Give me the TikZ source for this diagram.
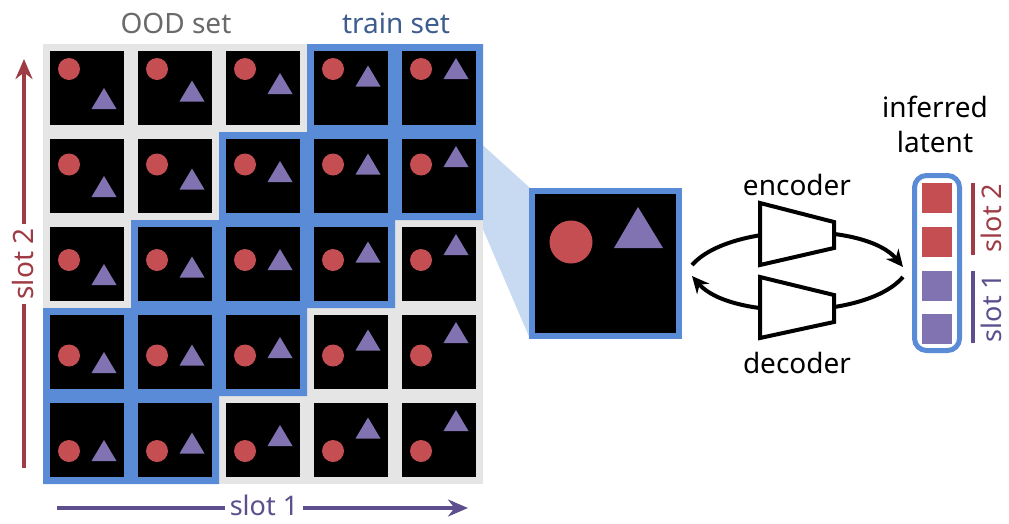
\documentclass[tikz,border=0pt]{standalone}
\usepackage{fontspec}
\setmainfont{Noto Sans}
\usetikzlibrary{arrows.meta}
\definecolor{cred}{HTML}{C44E52}
\definecolor{cpurple}{HTML}{8172B2}
\definecolor{cblue}{HTML}{5A8BD6}
\definecolor{lblue}{HTML}{C8DAF1}
\definecolor{cgray}{HTML}{E5E5E5}
\definecolor{dred}{HTML}{9E3B44}
\definecolor{dpurple}{HTML}{5D4F8D}
\definecolor{tblue}{HTML}{3D5D8F}
\definecolor{tgray}{HTML}{6A6A6A}
\begin{document}
\begin{tikzpicture}[x=1pt,y=-1pt,
  lbl/.style={font=\fontsize{28}{34}\selectfont, inner sep=1pt, text depth=0pt, anchor=base},
  edgelbl/.style={font=\fontsize{27}{32}\selectfont, text depth=0pt, anchor=base},
  cell/.style={fill=black, minimum size=74pt, inner sep=0pt, outer sep=0pt, draw=none},
  conn/.style={line width=4pt, black},
  coder/.style={draw=black, fill=white, line width=4pt, line join=miter},
  axis/.style={line width=4.5pt, -{Stealth[length=20pt,width=17pt]}}]
\useasboundingbox (0,0) rectangle (1009,523);
% projection cone
\fill[lblue] (476,139) -- (530,188) -- (530,339) -- (476,213) -- cycle;
% grid background
\fill[cgray] (43,44) rectangle (483,484);
\fill[cblue] (307,44) -- (483,44) -- (483,220) -- (395,220) -- (395,308) -- (307,308) -- (307,396) -- (219,396) -- (219,484) -- (43,484) -- (43,308) -- (131,308) -- (131,220) -- (219,220) -- (219,132) -- (307,132) -- cycle;
\foreach \i in {0,...,4} {
  \foreach \j in {0,...,4} {
    \pgfmathsetmacro\cx{50+88*\i}
    \pgfmathsetmacro\cy{51+88*\j}
    \pgfmathsetmacro\ccy{\cy+18+7.5*\j}
    \pgfmathsetmacro\ty{\cy+37-7.5*\i}
    \node[cell, anchor=north west] (c\i\j) at (\cx,\cy) {};
    \fill[cred] (\cx+19,\ccy) circle[radius=11pt];
    \fill[cpurple] (\cx+54,\ty) -- (\cx+66.5,\ty+21) -- (\cx+41.5,\ty+21) -- cycle;
  }
}
% titles
\node[lbl, text=tgray] (ood) at (176,33) {OOD set};
\node[lbl, text=tblue] (train) at (396,33) {train set};
% axes
\coordinate (ybot) at (24,468);
\coordinate (ytop) at (24,59);
\draw[axis, dred] (ybot) -- (ytop);
\node[lbl, rotate=90, fill=white, text=dred, inner xsep=5pt, inner ysep=2pt] (slottwo) at (33,264) {slot 2};
\coordinate (xl) at (57,508);
\coordinate (xr) at (468,508);
\draw[axis, dpurple] (xl) -- (xr);
\node[edgelbl, fill=white, text=dpurple, inner xsep=5pt, inner ysep=1pt] (slotone) at (264,515) {slot 1};
% panel
\node[draw=cblue, line width=6pt, fill=black, minimum width=147pt, minimum height=145pt, inner sep=0pt] (panel) at (605.5,263.5) {};
\fill[cred] (571,242) circle[radius=21.5pt];
\fill[cpurple] (638,207) -- (663,248) -- (614,248) -- cycle;
% connectors
\coordinate (encin) at (692,265);
\coordinate (encout) at (903,267);
\coordinate (decin) at (903,277);
\coordinate (decout) at (692,276);
\draw[conn, -{Stealth[length=17pt,width=16pt]}] (encin) .. controls (730,222) and (866,222) .. (encout);
\draw[conn, -{Stealth[length=17pt,width=16pt]}] (decin) .. controls (866,320) and (730,320) .. (decout);
\draw[coder] (760,203) -- (834,222) -- (834,248) -- (760,265) -- cycle;
\draw[coder] (760,277) -- (834,295) -- (834,322) -- (760,338) -- cycle;
\node[lbl] (enc) at (797,195) {encoder};
\node[lbl] (dec) at (797,373) {decoder};
% latent
\node[lbl] (inf1) at (935,117) {inferred};
\node[lbl] (inf2) at (935,152) {latent};
\draw[cblue, line width=5pt, rounded corners=12pt] (914.5,175.5) rectangle (959.5,350.5);
\fill[cred] (922,183) rectangle (952,213);
\fill[cred] (922,227) rectangle (952,257);
\fill[cpurple] (922,271) rectangle (952,301);
\fill[cpurple] (922,314) rectangle (952,344);
\draw[dred, line width=4pt] (973,183) -- (973,255);
\draw[dpurple, line width=4pt] (973,271) -- (973,343);
\node[edgelbl, rotate=90, text=dred, inner sep=0pt] (ls2) at (1001,218) {slot 2};
\node[edgelbl, rotate=90, text=dpurple, inner sep=0pt] (ls1) at (1001,308) {slot 1};
\end{tikzpicture}
\end{document}
